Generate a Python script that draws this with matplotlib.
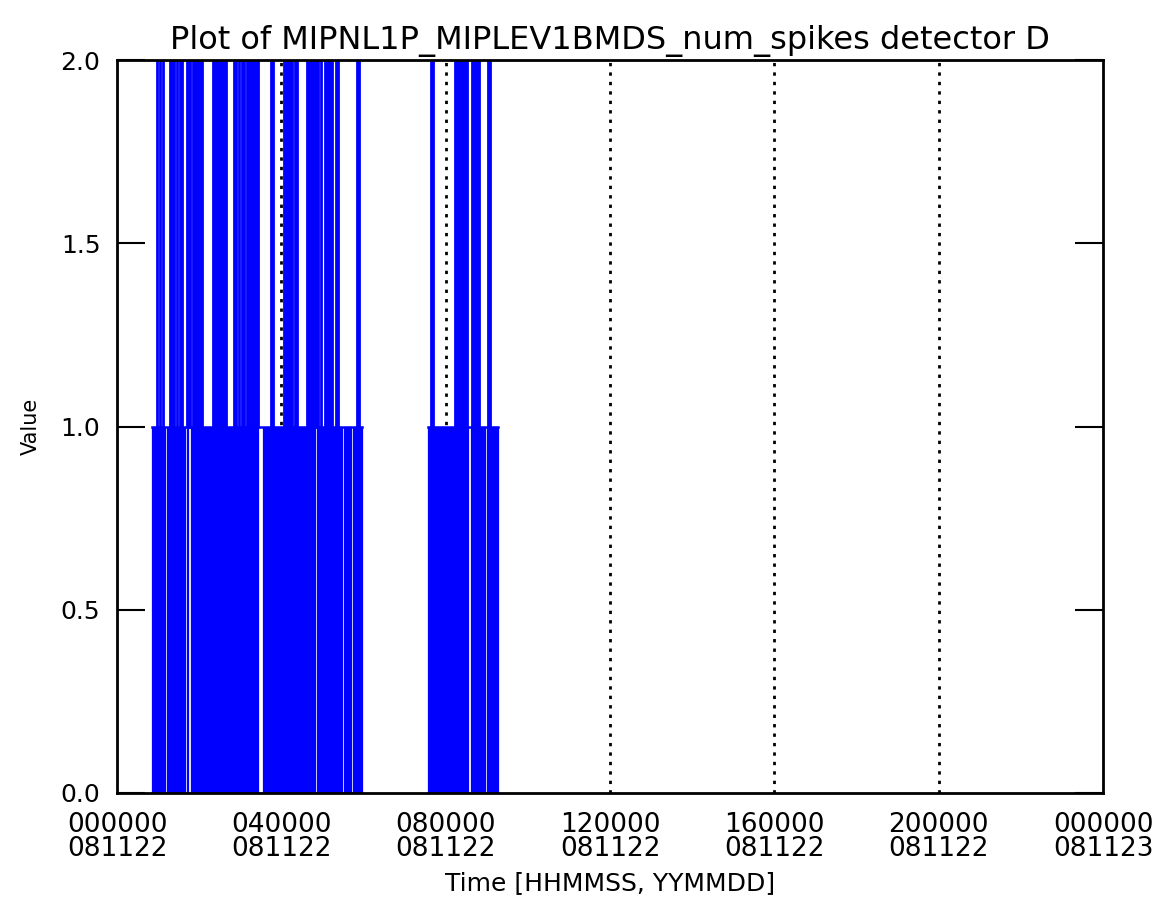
import matplotlib
matplotlib.use("Agg")
import matplotlib.pyplot as plt

# time in hours since 000000 081122
# ranges where the value flips densely between 0 and 1
low_start = [0.852, 1.120, 1.217, 1.704, 1.801, 3.554, 4.868, 5.525, 5.745,
             7.570, 8.617, 9.006]
low_end = [1.095, 1.168, 1.655, 1.728, 3.432, 4.820, 5.477, 5.696, 5.964,
           8.544, 8.957, 9.274]

# ranges where the value reaches 2
high_start = [0.974, 1.047, 1.120, 1.290, 1.460, 1.533, 1.704, 1.850, 2.337,
              2.848, 2.970, 3.043, 3.164, 3.286, 3.359, 3.749, 4.065, 4.333,
              4.625, 4.722, 4.820, 4.966, 5.063, 5.330, 5.842,
              7.643, 8.227, 8.641, 8.739, 8.812, 9.031]
high_end = [0.974, 1.047, 1.120, 1.387, 1.460, 1.582, 1.777, 2.069, 2.653,
            2.897, 2.970, 3.091, 3.237, 3.310, 3.432, 3.797, 4.260, 4.381,
            4.673, 4.771, 4.893, 4.966, 5.233, 5.379, 5.891,
            7.692, 8.519, 8.690, 8.763, 8.812, 9.079]

# stretches with data (value sits at 1 between excursions)
block_start = [0.852, 7.570]
block_end = [5.964, 9.274]

tick_hours = [0, 4, 8, 12, 16, 20, 24]
tick_labels = ["000000\n081122", "040000\n081122", "080000\n081122",
               "120000\n081122", "160000\n081122", "200000\n081122",
               "000000\n081123"]
y_ticks = [0.0, 0.5, 1.0, 1.5, 2.0]

blue = "#0000ff"
plt.rcParams["font.family"] = "DejaVu Sans"

fig = plt.figure(figsize=(11.6, 9.07), dpi=100)
ax = fig.add_axes([0.1009, 0.1257, 0.85, 0.8081])

# dotted time grid
ax.vlines(tick_hours[1:-1], 0, 2, colors="black", linestyles=(0, (1.2, 2.2)),
          linewidth=2, zorder=1)

for s, e in zip(low_start, low_end):
    ax.fill_between([s, e], 0, 1, color=blue, linewidth=0.9, edgecolor=blue, zorder=2)
for s, e in zip(high_start, high_end):
    ax.fill_between([s, e], 1, 2, color=blue, linewidth=2.0, edgecolor=blue, zorder=2)
for s, e in zip(block_start, block_end):
    ax.plot([s, e], [1, 1], color=blue, linewidth=1.8, zorder=2)
    ax.plot([s, e], [0, 0], color=blue, linewidth=1.2, zorder=2, alpha=0.6)

ax.set_xlim(0, 24)
ax.set_ylim(0, 2)
ax.set_xticks(tick_hours)
ax.set_xticklabels(tick_labels, fontsize=19, linespacing=0.9)
ax.set_yticks(y_ticks)
ax.set_yticklabels(["%.1f" % v for v in y_ticks], fontsize=18)
ax.tick_params(axis="x", length=0, pad=14)
ax.tick_params(axis="y", direction="in", length=20, width=1.5, right=True, pad=12)

for sp in ax.spines.values():
    sp.set_linewidth(2)
    sp.set_zorder(5)

ax.set_title("Plot of MIPNL1P_MIPLEV1BMDS_num_spikes detector D", fontsize=23, pad=8)
ax.set_xlabel("Time [HHMMSS, YYMMDD]", fontsize=18, labelpad=6)
ax.set_ylabel("Value", fontsize=15, labelpad=14)

fig.savefig("out.png", dpi=100, facecolor="white")
